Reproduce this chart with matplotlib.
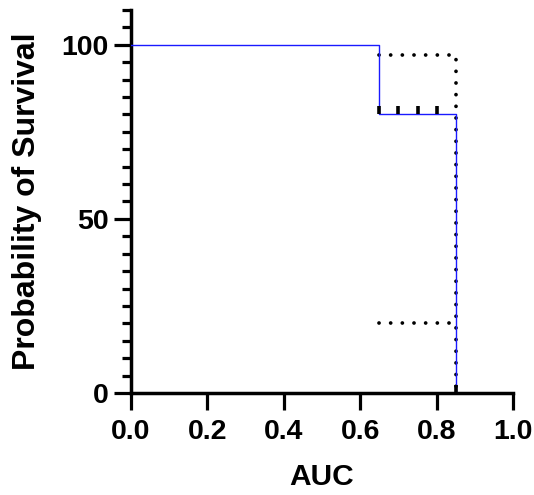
import numpy as np
import matplotlib.pyplot as plt
from matplotlib.ticker import MultipleLocator, FormatStrFormatter

plt.rcParams['font.family'] = ['Liberation Sans', 'DejaVu Sans']
plt.rcParams['font.weight'] = 'bold'

# Kaplan-Meier step data
t_step = [0.0, 0.65, 0.85, 0.85]
surv = [100, 80, 0, 0]
upper_t = [0.65, 0.85, 0.85]
upper_ci = [97, 97, 0]
lower_t = [0.65, 0.85]
lower_ci = [20, 20]
censor_t = [0.65, 0.70, 0.75, 0.80, 0.85]
censor_s = [80, 80, 80, 80, 0]

fig = plt.figure(figsize=(5.34, 4.95), dpi=100)
ax = fig.add_axes([0.2453, 0.2061, 0.7154, 0.7737])

ax.step(t_step, surv, where='post', color='#1a1aff', lw=1.0, zorder=3)
dots = dict(color='black', lw=2.7, linestyle=(0, (0.01, 3.1)),
            dash_capstyle='round', zorder=2)
ax.plot(upper_t, upper_ci, **dots)
ax.plot(lower_t, lower_ci, **dots)
ax.plot(censor_t, censor_s, ls='none', marker=2, ms=6, mew=2.6,
        color='black', zorder=4, clip_on=False)

ax.set_xlim(0, 1.0)
ax.set_ylim(0, 110)
ax.xaxis.set_major_locator(MultipleLocator(0.2))
ax.xaxis.set_major_formatter(FormatStrFormatter('%.1f'))
ax.yaxis.set_major_locator(MultipleLocator(50))
ax.yaxis.set_minor_locator(MultipleLocator(5))

for s in ['top', 'right']:
    ax.spines[s].set_visible(False)
for s in ['left', 'bottom']:
    ax.spines[s].set_linewidth(2.5)

ax.tick_params(axis='both', which='major', length=12, width=2.3,
               labelsize=20.5, direction='out')
ax.tick_params(axis='x', pad=7)
ax.tick_params(axis='y', pad=4)
ax.tick_params(axis='y', which='minor', length=6.5, width=2.3)

ax.set_xlabel('AUC', fontsize=21.5, fontweight='bold', labelpad=13)
ax.set_ylabel('Probability of Survival', fontsize=23, fontweight='bold', labelpad=14)

fig.savefig('out.png', dpi=100)
